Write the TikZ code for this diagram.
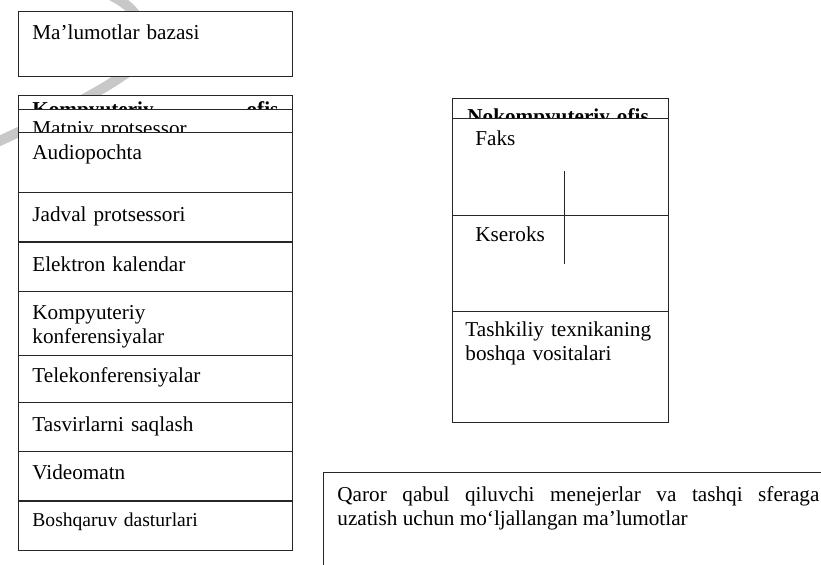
\documentclass[tikz,border=0pt]{standalone}
\usepackage{fontspec}
\setmainfont{Liberation Serif}
\usetikzlibrary{positioning}
\tikzset{
	ofbox/.style={draw=black!85, fill=white, line width=0.5pt},
	oflabel/.style={anchor=base west, inner sep=0pt, text width=150pt, align=left,
		font=\fontsize{10.6}{11.8}\selectfont},
	ofhead/.style={oflabel, font=\fontsize{10.6}{11.8}\selectfont\bfseries},
}
\definecolor{MarkGray}{RGB}{200, 200, 200}

\begin{document}
\begin{tikzpicture}[x=0.5pt, y=-0.5pt]
\clip (0,0) rectangle (821,565);
\fill[white] (0,0) rectangle (821,565);

% brush stroke behind the left column
\draw[MarkGray, line width=5pt, line cap=round] (-5,143) .. controls (50,118) and (100,92) .. (128,72) .. controls (150,45) and (150,15) .. (112,-4);

% left column: computer office
\draw[ofbox] (18,12) rectangle (292,77);
\node[oflabel] (mbaza) at (32,40) {Ma’lumotlar bazasi};

\draw[ofbox] (18,96) rectangle (292,150);
\node[ofhead, text width=123pt] (kofis) at (32,117) {Kompyuteriy \hfill ofis};

\draw[ofbox] (18,110) rectangle (292,160);
\node[oflabel] (matn) at (32,136) {Matniy protsessor};

\draw[ofbox] (18,133) rectangle (292,193);
\node[oflabel] (audio) at (32,160) {Audiopochta};

\draw[ofbox] (18,193) rectangle (292,242);
\node[oflabel] (jadval) at (32,222) {Jadval protsessori};

\draw[ofbox] (18,243) rectangle (292,292);
\node[oflabel] (kalendar) at (32,272) {Elektron kalendar};

\draw[ofbox] (18,292) rectangle (292,356);
\node[oflabel] (konf) at (32,320) {Kompyuteriy\\konferensiyalar};

\draw[ofbox] (18,356) rectangle (292,403);
\node[oflabel] (telekonf) at (32,383) {Telekonferensiyalar};

\draw[ofbox] (18,403) rectangle (292,452);
\node[oflabel] (tasvir) at (32,432) {Tasvirlarni saqlash};

\draw[ofbox] (18,452) rectangle (292,501);
\node[oflabel] (video) at (32,480) {Videomatn};

\draw[ofbox] (18,502) rectangle (292,551);
\node[oflabel, font=\fontsize{9.8}{11}\selectfont] (boshqaruv) at (32,527) {Boshqaruv dasturlari};

% right column: non-computer office
\draw[ofbox] (452,99) rectangle (668,423);
\node[ofhead] (nkofis) at (467,124) {Nokompyuteriy ofis};

\draw[ofbox] (452,119) rectangle (668,216);
\node[oflabel] (faks) at (475,146) {Faks};

\draw[ofbox] (452,216) rectangle (668,312);
\node[oflabel] (kseroks) at (475,242) {Kseroks};
\draw[black!85, line width=0.5pt] (564,171) -- (564,264);

\draw[ofbox] (452,312) rectangle (668,423);
\node[oflabel] (tashkiliy) at (465,337) {Tashkiliy texnikaning\\boshqa vositalari};

% output information
\draw[ofbox] (323,473) rectangle (860,600);
\node[oflabel, text width=241pt, align=justify] (qaror) at (337,502) {Qaror qabul qiluvchi menejerlar va tashqi sferaga\linebreak uzatish uchun mo‘ljallangan ma’lumotlar};
\end{tikzpicture}
\end{document}
